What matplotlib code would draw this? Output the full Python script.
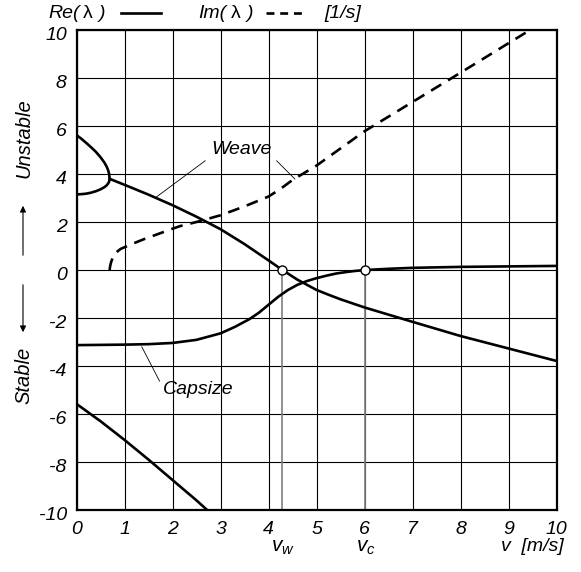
import numpy as np
import matplotlib.pyplot as plt
from matplotlib.lines import Line2D
from matplotlib.transforms import ScaledTranslation

plt.rcParams['font.family'] = ['Liberation Sans', 'DejaVu Sans']
plt.rcParams['mathtext.fontset'] = 'custom'
plt.rcParams['mathtext.it'] = 'Liberation Sans:italic'
plt.rcParams['mathtext.rm'] = 'Liberation Sans'
plt.rcParams['axes.unicode_minus'] = False

# speeds where weave and capsize become stable
v_weave = 4.29
v_caps = 6.02

# real pair at low speed (upper branch runs on into the weave real part)
v_re_weave = [0, 0.1, 0.2, 0.3, 0.4, 0.5, 0.58, 0.63, 0.66, 0.68, 0.69,
              0.8, 1.0, 1.5, 2.0, 2.5, 3.0, 3.5, 4.0, 4.29, 4.6, 5.0, 5.25,
              5.5, 6.0, 7.0, 8.0, 9.0, 10.0]
re_weave = [5.62, 5.47, 5.30, 5.12, 4.93, 4.70, 4.48, 4.30, 4.15, 4.0, 3.8,
            3.71, 3.55, 3.14, 2.70, 2.22, 1.70, 1.08, 0.40, 0.0, -0.40, -0.83,
            -1.03, -1.22, -1.56, -2.16, -2.75, -3.27, -3.79]

v_re_low = [0, 0.1, 0.2, 0.3, 0.4, 0.5, 0.58, 0.63, 0.66, 0.68, 0.69]
re_low = [3.15, 3.16, 3.18, 3.22, 3.28, 3.36, 3.45, 3.53, 3.61, 3.68, 3.8]

v_im = [0.69, 0.70, 0.72, 0.76, 0.82, 0.92, 1.05, 1.2, 1.4, 1.7, 2.0, 2.16,
        2.5, 3.0, 3.5, 4.0, 4.25, 4.5, 5.0, 6.0, 7.0, 8.0, 9.0, 9.45]
im_weave = [0.0, 0.15, 0.32, 0.55, 0.72, 0.88, 0.99, 1.12, 1.28, 1.5, 1.72,
            1.83, 2.0, 2.28, 2.65, 3.06, 3.38, 3.75, 4.35, 5.78, 7.0, 8.22,
            9.45, 10.0]

v_caps_arr = [0, 0.5, 1.0, 1.5, 2.0, 2.5, 3.0, 3.3, 3.6, 3.8, 4.0, 4.2, 4.4,
              4.6, 4.8, 5.0, 5.2, 5.4, 5.6, 5.8, 6.02, 6.5, 7.0, 8.0, 9.0, 10.0]
re_caps = [-3.13, -3.12, -3.11, -3.09, -3.04, -2.91, -2.64, -2.37, -2.05,
           -1.78, -1.45, -1.12, -0.84, -0.62, -0.46, -0.34, -0.24, -0.15,
           -0.09, -0.04, 0.0, 0.05, 0.09, 0.13, 0.15, 0.17]

v_cast = [0, 0.5, 1.0, 1.5, 2.0, 2.5, 2.75]
re_cast = [-5.58, -6.3, -7.08, -7.9, -8.75, -9.6, -10.05]

xticks = list(range(0, 11))
yticks = list(range(-10, 11, 2))

fig = plt.figure(figsize=(5.81, 5.72), dpi=100)
ax = fig.add_axes([76.5 / 581, 1 - 510 / 572, 480 / 581, 480 / 572])

lw = 1.9
ax.plot(v_re_weave, re_weave, color='black', lw=lw)
ax.plot(v_re_low, re_low, color='black', lw=lw)
ax.plot(v_caps_arr, re_caps, color='black', lw=lw)
ax.plot(v_cast, re_cast, color='black', lw=lw)
ax.plot(v_im, im_weave, color='black', lw=lw, ls=(0, (4.5, 3)))

ax.vlines([v_weave, v_caps], -10, 0, color='0.5', lw=1.2, zorder=1)
ax.plot([v_weave, v_caps], [0, 0], 'o', ms=6.5, mfc='white', mec='black',
        mew=1.0, zorder=5)

ax.set_xlim(0, 10)
ax.set_ylim(-10, 10)
ax.set_xticks(xticks)
ax.set_yticks(yticks)
ax.grid(True, color='black', lw=0.8)
ax.set_axisbelow(True)
ax.tick_params(length=0, labelsize=14, pad=7)
ax.tick_params(axis='x', pad=8)
for lab in ax.get_xticklabels() + ax.get_yticklabels():
    lab.set_style('italic')
for lab in ax.get_yticklabels():
    lab.set_transform(lab.get_transform() + ScaledTranslation(0, -0.04, fig.dpi_scale_trans))
for sp in ax.spines.values():
    sp.set_linewidth(1.6)

# curve names with leader lines
ax.text(3.44, 5.0, 'Weave', fontsize=14, style='italic', ha='center', va='center')
ax.plot([2.68, 1.67], [4.55, 3.05], color='black', lw=0.6)
ax.plot([4.17, 4.55], [4.55, 3.79], color='black', lw=0.6)
ax.text(2.54, -5.0, 'Capsize', fontsize=14, style='italic', ha='center', va='center')
ax.plot([1.73, 1.36], [-4.63, -3.2], color='black', lw=0.6)

# speed markers under the axis
ax.text(v_weave, -11.15, r'$v_w$', fontsize=15, ha='center', va='top')
ax.text(v_caps, -11.15, r'$v_c$', fontsize=15, ha='center', va='top')
ax.text(10.15, -11.15, 'v  [m/s]', fontsize=14, style='italic', ha='right', va='top')

# stability side note
fig.text(24 / 581, 1 - 138 / 572, 'Unstable', rotation=90, fontsize=14.5,
         style='italic', ha='center', va='center')
fig.text(24 / 581, 1 - 375 / 572, 'Stable', rotation=90, fontsize=14.5,
         style='italic', ha='center', va='center')
fig.add_artist(plt.Annotation('', xy=(23 / 581, 1 - 203 / 572),
                              xytext=(23 / 581, 1 - 258 / 572),
                              xycoords='figure fraction',
                              arrowprops=dict(arrowstyle='-|>', color='black',
                                              lw=0.8, mutation_scale=9)))
fig.add_artist(plt.Annotation('', xy=(23 / 581, 1 - 335 / 572),
                              xytext=(23 / 581, 1 - 282 / 572),
                              xycoords='figure fraction',
                              arrowprops=dict(arrowstyle='-|>', color='black',
                                              lw=0.8, mutation_scale=9)))

# legend line at the top
ty = 1 - 13 / 572
fig.text(48.7 / 581, ty, 'Re(', fontsize=14, style='italic', va='center')
fig.text(88 / 581, ty, 'λ', fontsize=14, ha='center', va='center')
fig.text(99 / 581, ty, ')', fontsize=14, style='italic', va='center')
fig.add_artist(Line2D([121 / 581, 161 / 581], [ty, ty], color='black', lw=lw,
                      transform=fig.transFigure))
fig.text(198.5 / 581, ty, 'Im(', fontsize=14, style='italic', va='center')
fig.text(236 / 581, ty, 'λ', fontsize=14, ha='center', va='center')
fig.text(247 / 581, ty, ')', fontsize=14, style='italic', va='center')
fig.add_artist(Line2D([266 / 581, 305 / 581], [ty, ty], color='black', lw=lw,
                      ls=(0, (3, 2.2)), transform=fig.transFigure))
fig.text(324 / 581, ty, '[1/s]', fontsize=14, style='italic', va='center')

fig.savefig('out.png', dpi=100)
